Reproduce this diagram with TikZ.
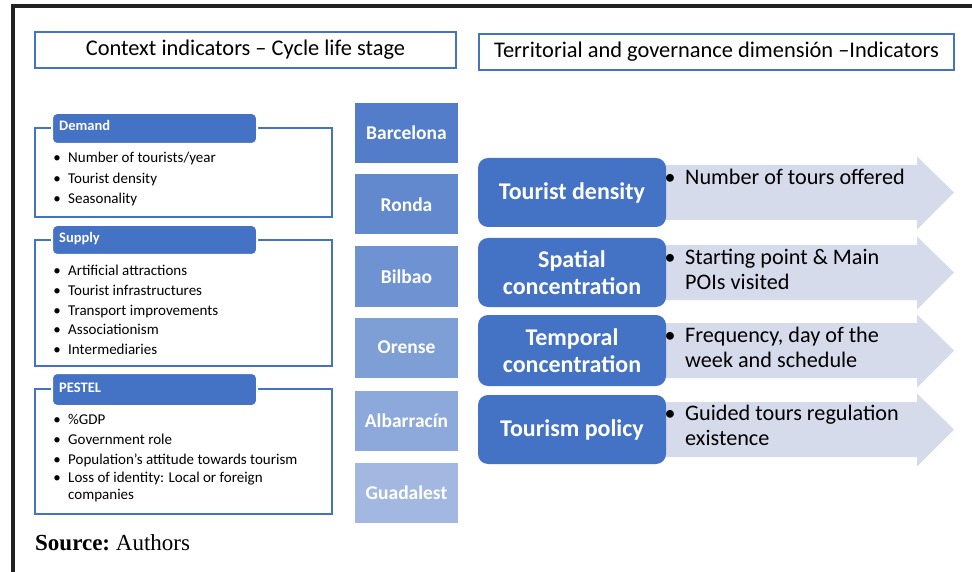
\documentclass[tikz,border=0pt]{standalone}
\usepackage{fontspec}
\setmainfont{Carlito}
\newfontfamily\srcfont{Liberation Serif}
\definecolor{mainblue}{HTML}{4472C4}
\definecolor{arrowfill}{RGB}{214,219,236}
\definecolor{framegray}{HTML}{222222}
\tikzset{
  titlebox/.style={draw=mainblue, line width=1.2pt, fill=white, inner sep=0pt, font=\fontsize{22.4}{26}\selectfont},
  grpframe/.style={draw=mainblue, line width=1.2pt, inner sep=0pt},
  grphead/.style={fill=mainblue, draw=white, line width=2pt, rounded corners=5pt, inner sep=0pt},
  headtext/.style={anchor=base west, inner sep=0pt, text=white, font=\fontsize{14.5}{17}\selectfont\bfseries},
  lbul/.style={anchor=base, inner sep=0pt, font=\fontsize{15}{18}\selectfont},
  ltext/.style={anchor=base west, inner sep=0pt, text=black, font=\fontsize{15}{18}\selectfont},
  citybox/.style={inner sep=0pt, minimum width=103pt, minimum height=60pt, text=white, font=\fontsize{19.5}{23}\selectfont\bfseries},
  dimbox/.style={fill=mainblue, rounded corners=10pt, inner sep=0pt, minimum width=188pt, text=white, align=center, font=\fontsize{24}{27}\selectfont\bfseries},
  arrowbg/.style={fill=arrowfill},
  rbul/.style={anchor=base, inner sep=0pt, font=\fontsize{22}{25}\selectfont},
  rtext/.style={anchor=base west, inner sep=0pt, font=\fontsize{22.2}{25}\selectfont},
}
\begin{document}
\begin{tikzpicture}[x=1pt,y=-1pt]
\useasboundingbox (0,0) rectangle (972,572);
\fill[white] (0,0) rectangle (972,572);
\draw[framegray, line width=4pt] (13,574) -- (13,6) -- (974,6);

% titles
\node[titlebox, minimum width=421pt, minimum height=36pt] (t1) at (245.5,50) {Context indicators – Cycle life stage};
\node[titlebox, minimum width=475pt, minimum height=36pt] (t2) at (716.5,52) {Territorial and governance dimensión –Indicators};

% left groups
\node[grpframe, minimum width=297pt, minimum height=89pt] (dframe) at (183.5,172.5) {};
\node[grphead, minimum width=205pt, minimum height=31pt] (dhead) at (154.5,128.5) {};
\node[headtext] (dhtext) at (59,130.5) {Demand};
\foreach \y/\t [count=\i] in {163/{Number of tourists/year}, 184/Tourist density, 204/Seasonality}{
  \node[lbul] (db\i) at (57,\y) {•};
  \node[ltext] (dt\i) at (68,\y) {\t};
}

\node[grpframe, minimum width=297pt, minimum height=126pt] (sframe) at (183.5,303) {};
\node[grphead, minimum width=205pt, minimum height=30pt] (shead) at (154.5,240) {};
\node[headtext] (shtext) at (59,242.5) {Supply};
\foreach \y/\t [count=\i] in {276/Artificial attractions, 295.5/Tourist infrastructures, 315/Transport improvements, 334.5/Associationism, 354/Intermediaries}{
  \node[lbul] (sb\i) at (57,\y) {•};
  \node[ltext] (st\i) at (68,\y) {\t};
}

\node[grpframe, minimum width=297pt, minimum height=125pt] (pframe) at (183.5,451.5) {};
\node[grphead, minimum width=205pt, minimum height=33pt] (phead) at (154.5,389.5) {};
\node[headtext] (phtext) at (59,392.5) {PESTEL};
\foreach \y/\t [count=\i] in {424/\%GDP, 444/Government role, 464/Population’s attitude towards tourism, 482/Loss of identity: Local or foreign}{
  \node[lbul] (pb\i) at (57,\y) {•};
  \node[ltext] (pt\i) at (68,\y) {\t};
}
\node[ltext] (pt5) at (68,499.5) {companies};

\node[anchor=base west, inner sep=0pt, font=\srcfont\fontsize{23}{27}\selectfont] (src) at (35,550) {\textbf{Source:}\ Authors};

% cities
\node[citybox, fill=mainblue!92!white] (c1) at (406.5,133) {Barcelona};
\node[citybox, fill=mainblue!84!white] (c2) at (406.5,204.5) {Ronda};
\node[citybox, fill=mainblue!77!white] (c3) at (406.5,276.5) {Bilbao};
\node[citybox, fill=mainblue!69!white] (c4) at (406.5,347.5) {Orense};
\node[citybox, fill=mainblue!61!white] (c5) at (406.5,421) {Albarracín};
\node[citybox, fill=mainblue!50!white] (c6) at (406.5,492.5) {Guadalest};

% arrows
\foreach \c in {192.5,272.5,350.5,429.5}{
  \fill[arrowbg] (660,\c-27.5) -- (917,\c-27.5) -- (917,\c-36) -- (954,\c) -- (917,\c+37) -- (917,\c+27.5) -- (660,\c+27.5) -- cycle;
}

% dimension boxes
\node[dimbox, minimum height=69pt] (d1) at (572,192.5) {Tourist density};
\node[dimbox, minimum height=69pt] (d2) at (572,272.5) {Spatial\\concentration};
\node[dimbox, minimum height=71pt] (d3) at (572,350.5) {Temporal\\concentration};
\node[dimbox, minimum height=69pt] (d4) at (572,429.5) {Tourism policy};

% arrow texts
\node[rbul] (rb1) at (670,184.5) {•};
\node[rtext] (rt1) at (685,184.5) {Number of tours offered};
\node[rbul] (rb2) at (670,264.5) {•};
\node[rtext] (rt2a) at (685,264.5) {Starting point \& Main};
\node[rtext] (rt2b) at (685,289.5) {POIs visited};
\node[rbul] (rb3) at (670,342.5) {•};
\node[rtext] (rt3a) at (685,342.5) {Frequency, day of the};
\node[rtext] (rt3b) at (685,367.5) {week and schedule};
\node[rbul] (rb4) at (670,420.5) {•};
\node[rtext] (rt4a) at (685,420.5) {Guided tours regulation};
\node[rtext] (rt4b) at (685,445.5) {existence};
\end{tikzpicture}
\end{document}
